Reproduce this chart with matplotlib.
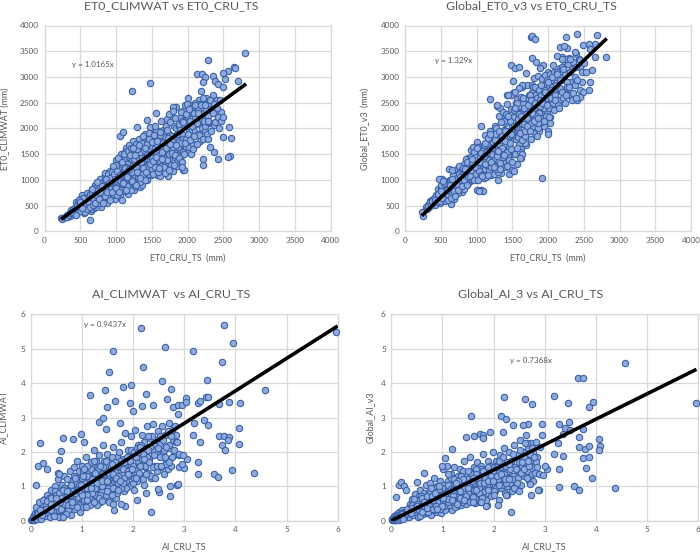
import matplotlib
matplotlib.use("Agg")
import matplotlib.pyplot as plt

plt.rcParams["font.family"] = ["Lato", "DejaVu Sans"]

W, H = 700, 552
TEXT = "#595959"
GRID = "#d9d9d9"

# values: shared CRU_TS x for the dense cloud
et0_x = [
    235, 250, 285, 300, 315, 330, 345, 360, 375, 390,
    400, 415, 430, 445, 460, 475, 490, 505, 520, 535,
    550, 565, 580, 595, 610, 625, 640, 650, 665, 680,
    690, 700, 710, 725, 740, 755, 770, 785, 800, 815,
    825, 840, 850, 865, 880, 895, 910, 925, 940, 955,
    965, 980, 995, 1005, 1020, 1030, 1045, 1060, 1075, 1085,
    1100, 1110, 1125, 1140, 1155, 1165, 1180, 1195, 1210, 1225,
    1235, 1250, 1265, 1280, 1295, 1310, 1325, 1340, 1355, 1370,
    1385, 1400, 1415, 1430, 1445, 1460, 1475, 1490, 1505, 1520,
    1530, 1545, 1560, 1575, 1590, 1605, 1620, 1635, 1650, 1665,
    1680, 1695, 1710, 1725, 1740, 1755, 1770, 1785, 1800, 1815,
    1830, 1845, 1860, 1875, 1890, 1905, 1920, 1935, 1950, 1965,
    1980, 1995, 2010, 2025, 2040, 2055, 2070, 2085, 2100, 2115,
    2130, 2145, 2160, 2175, 2190, 2205, 2220, 2235, 2250, 2265,
    2280, 2295, 2310, 2330, 2350, 2370, 2390, 2410, 2440, 2470,
    610, 628, 646, 664, 682, 700, 718, 736, 754, 772,
    790, 808, 826, 844, 862, 880, 898, 916, 934, 952,
    970, 988, 1006, 1024, 1042, 1060, 1078, 1096, 1114, 1132,
    1150, 1168, 1186, 1204, 1222, 1240, 1258, 1276, 1294, 1312,
    1330, 1348, 1366, 1384, 1402, 1420, 1438, 1456, 1474, 1492,
    1510, 1528, 1546, 1564, 1582, 1600, 1618, 1636, 1654, 1672,
    1690, 1708, 1726, 1744, 1762, 1780, 1798, 1816, 1834, 1852,
    1870, 1888, 1906, 1924, 1942, 1960, 1978, 1996, 2014, 2032,
    455, 470, 485, 500, 515, 530, 545, 560, 575, 590,
    600, 615, 630, 645, 660, 675, 690, 705, 720, 735,
    750, 765, 780, 795, 810, 825, 840, 855, 870, 885,
    900, 915, 930, 945, 960, 975, 990, 1005, 1020, 1035,
    1050, 1065, 1080, 1095, 1110, 1125, 1140, 1155, 1170, 1185,
    1200, 1215, 1230, 1245, 1260, 1275, 1290, 1305, 1320, 1335,
    1350, 1365, 1380, 1395, 1410, 1425, 1440, 1455, 1470, 1485,
    1500, 1515, 1530, 1545, 1560, 1575, 1590, 1605, 1620, 1635,
    1650, 1665, 1680, 1695, 1710, 1725, 1740, 1755, 1770, 1785,
    1800, 1815, 1830, 1845, 1860, 1875, 1890, 1905, 1920, 1935,
    1950, 1965, 1980, 1995, 2010, 2025, 2040, 2055, 2070, 2085,
    2100, 2120, 2140, 2160, 2180, 2200, 2220, 2240, 2260, 2280,
    500, 520, 540, 560, 580, 600, 620, 640, 660, 680,
    700, 720, 740, 760, 780, 800, 820, 840, 860, 880,
    900, 920, 940, 960, 980, 1000, 1020, 1040, 1060, 1080,
    1100, 1120, 1140, 1160, 1180, 1200, 1220, 1240, 1260, 1280,
    1300, 1320, 1340, 1360, 1380, 1400, 1420, 1440, 1460, 1480,
    1500, 1520, 1540, 1560, 1580, 1600, 1620, 1640, 1660, 1680,
    1700, 1720, 1740, 1760, 1780, 1800, 1820, 1840, 1860, 1880,
    1900, 1920, 1940, 1960, 1980, 2000, 2020, 2040, 2060, 2080,
    2090, 2110, 2130, 2150, 2170, 2190, 2210, 2230, 2250, 2270,
    2290, 2310, 2330, 2350, 2370, 2390, 2410, 2430, 2450, 2470,
    320, 340, 360, 380, 420, 440, 460, 480, 500, 520,
]
climwat_et0 = [
    255, 250, 285, 275, 330, 300, 345, 300, 420, 360,
    440, 350, 400, 580, 370, 500, 640, 420, 700, 520,
    360, 610, 450, 740, 520, 680, 220, 400, 580, 760,
    450, 900, 620, 840, 520, 720, 940, 480, 650, 820,
    1040, 580, 760, 920, 640, 1100, 830, 700, 1000, 890,
    1200, 640, 1380, 780, 1060, 920, 1250, 690, 1500, 620,
    850, 1380, 1000, 1630, 1150, 720, 1450, 900, 1270, 1550,
    1750, 800, 1080, 1550, 930, 1300, 1790, 860, 1180, 1620,
    1050, 1900, 1430, 1000, 1780, 1280, 2030, 1100, 1650, 1900,
    1200, 1500, 1780, 1100, 1960, 1350, 1640, 2150, 1170, 1850,
    1300, 1560, 2180, 1080, 1900, 1420, 2290, 1660, 1170, 2050,
    1450, 2420, 1280, 1750, 2200, 1560, 1900, 1200, 2350, 1620,
    2100, 1560, 2600, 1800, 2300, 1500, 2450, 1950, 2200, 1700,
    2400, 1900, 2560, 2150, 2720, 2000, 2300, 2500, 1950, 2600,
    2250, 2450, 2100, 2380, 2650, 2060, 2300, 2550, 2000, 2320,
    500, 650, 440, 830, 560, 680, 480, 880, 600, 1010,
    590, 870, 700, 1130, 620, 990, 780, 1180, 680, 1060,
    780, 1280, 900, 1430, 1120, 1860, 830, 1940, 1200, 1540,
    1320, 1060, 1680, 800, 1400, 1180, 950, 1700, 1470, 1050,
    1520, 1230, 900, 1850, 1150, 1650, 1300, 1920, 1500, 1220,
    1780, 1330, 1620, 1980, 1250, 1830, 1080, 1500, 1980, 1400,
    1950, 1450, 1700, 2280, 1250, 1850, 2420, 1550, 2000, 1350,
    1650, 2050, 2330, 1480, 1800, 2450, 1650, 2250, 1950, 2450,
    460, 560, 530, 480, 620, 590, 470, 560, 650, 430,
    600, 460, 720, 540, 740, 640, 520, 770, 560, 700,
    800, 560, 880, 720, 950, 640, 1000, 830, 560, 1120,
    720, 1040, 830, 1150, 730, 1110, 860, 1300, 700, 1000,
    1120, 800, 1320, 960, 1500, 780, 1250, 890, 1560, 1080,
    1020, 1620, 1150, 1400, 880, 1250, 1600, 1130, 1420, 960,
    1350, 1720, 1120, 1580, 1000, 1250, 1700, 1120, 1380, 1800,
    1420, 1120, 1870, 1260, 1550, 1700, 1160, 1480, 1880, 1270,
    1550, 1250, 1700, 2050, 1380, 1820, 1500, 2120, 1300, 1780,
    1650, 1300, 2200, 1850, 1480, 2080, 1380, 1720, 2150, 1550,
    1500, 2100, 1800, 2480, 2050, 1650, 2150, 2400, 1700, 2300,
    2500, 2080, 2350, 1880, 2470, 2180, 2600, 2050, 2350, 2130,
    400, 640, 660, 380, 520, 430, 560, 480, 820, 520,
    560, 700, 960, 640, 760, 880, 560, 680, 1020, 760,
    940, 620, 760, 1280, 1020, 840, 1180, 760, 1100, 1350,
    950, 1230, 800, 1050, 1220, 1480, 980, 1620, 1480, 900,
    1150, 1680, 1040, 1430, 1240, 1620, 1150, 1480, 1800, 1320,
    1730, 1360, 2050, 1450, 1750, 1230, 1930, 1400, 1720, 1130,
    1620, 1980, 1200, 1700, 1530, 2340, 1480, 1680, 1900, 1420,
    1980, 1350, 2120, 1720, 2280, 1900, 2380, 1780, 2050, 1600,
    1850, 2450, 2100, 2300, 1750, 2450, 1800, 2150, 2450, 1900,
    2150, 2550, 1950, 2300, 2480, 2130, 2400, 2230, 2550, 2150,
    290, 320, 350, 380, 460, 330, 500, 610, 580, 460,
]
global_et0 = [
    375, 310, 480, 440, 520, 470, 600, 540, 620, 560,
    650, 520, 700, 600, 820, 640, 560, 760, 1010, 620,
    720, 880, 660, 990, 780, 1000, 530, 700, 860, 640,
    900, 1100, 780, 1210, 1000, 860, 1180, 1030, 760, 1090,
    1320, 960, 1150, 1050, 1420, 1240, 990, 1580, 1120, 1340,
    1050, 1500, 1230, 1730, 1100, 1400, 1620, 800, 1280, 790,
    1030, 1880, 1180, 1620, 1340, 1490, 1760, 1100, 1650, 1950,
    1120, 2050, 1300, 2440, 1000, 1700, 2400, 1130, 1900, 2200,
    1330, 2100, 1600, 2650, 1120, 1850, 2380, 1200, 2680, 1500,
    1900, 2500, 1320, 2150, 1700, 2440, 1430, 2800, 1850, 2250,
    2500, 1680, 2850, 2100, 2330, 1800, 2700, 2050, 2980, 1920,
    2600, 2150, 3020, 1960, 2750, 2300, 2960, 2040, 2500, 2880,
    2300, 3100, 2650, 2230, 2950, 2480, 3230, 2700, 2400, 3000,
    2850, 2550, 3180, 2720, 3380, 2600, 2950, 3260, 2760, 3080,
    2650, 3360, 2900, 3150, 2680, 3000, 3450, 2560, 3200, 2900,
    800, 940, 690, 1090, 850, 1000, 820, 930, 1280, 890,
    1200, 840, 1060, 1400, 1280, 940, 1130, 1450, 1020, 1640,
    1180, 1370, 1600, 1050, 1500, 2050, 1330, 1680, 1220, 1420,
    1700, 1200, 1960, 1550, 1840, 1430, 1280, 2000, 1150, 2250,
    1800, 1520, 2320, 1980, 1250, 2480, 1460, 1650, 2650, 2050,
    2220, 1180, 1800, 2580, 1980, 2300, 1600, 2080, 2500, 1720,
    2280, 1950, 2650, 2150, 2480, 2850, 2250, 2650, 2420, 2000,
    2300, 2620, 2120, 2850, 2400, 3030, 2560, 1960, 2800, 2450,
    720, 680, 740, 850, 700, 830, 780, 640, 750, 820,
    700, 950, 860, 760, 960, 790, 960, 850, 1040, 740,
    1120, 930, 860, 1100, 1240, 830, 1180, 1060, 1340, 1130,
    1210, 1020, 1340, 1230, 1550, 1120, 1440, 1280, 1650, 1180,
    1450, 1100, 1570, 1350, 1720, 1060, 1290, 1820, 1380, 1600,
    1260, 1500, 1740, 1620, 1890, 1220, 1520, 1950, 1330, 1780,
    1620, 1440, 2150, 1750, 2280, 1550, 1950, 1380, 2150, 1600,
    1870, 2350, 1500, 2030, 2500, 1830, 2280, 1540, 2620, 1780,
    2600, 2080, 1850, 2400, 2200, 1950, 2650, 2100, 2350, 2800,
    2400, 2800, 2250, 2600, 2100, 2750, 2430, 2650, 2200, 2700,
    2750, 2250, 2950, 2600, 2400, 3050, 2600, 2800, 2500, 3100,
    2650, 3100, 2450, 2780, 3000, 3200, 2700, 3050, 2900, 3250,
    900, 700, 940, 600, 810, 620, 900, 660, 1020, 780,
    680, 920, 800, 1050, 1000, 880, 1000, 1220, 900, 1060,
    1080, 1200, 1400, 1000, 1250, 1620, 1000, 1350, 1530, 1080,
    1460, 1310, 1540, 1100, 1900, 1350, 1620, 1260, 1780, 1460,
    1560, 1220, 2120, 1850, 1480, 1960, 1280, 2250, 1720, 1900,
    1350, 2050, 2400, 1620, 2180, 1920, 2250, 1500, 2400, 1950,
    2050, 2450, 1950, 2550, 2300, 2150, 2500, 1850, 2200, 2550,
    2850, 2500, 2150, 2700, 2450, 2900, 2100, 2750, 3000, 2350,
    2550, 2850, 3050, 2400, 2950, 2700, 3150, 2500, 3350, 2800,
    2800, 3100, 2550, 3300, 2850, 3200, 2950, 3350, 2750, 3100,
    500, 570, 520, 590, 620, 570, 730, 600, 780, 650,
]

# points standing clear of the cloud
climwat_et0_out_x = [1220, 1480, 2290, 2810, 2650, 2660, 2570, 2490, 2130, 2200, 2350, 2240,
                     2390, 2210, 2520, 2700, 2420, 2500, 1560, 1440, 1300, 2580, 2500, 2610,
                     2590, 2570, 2430, 2210, 2210, 2370, 2320, 2280, 1950, 1920, 2130, 2490]
climwat_et0_out_y = [2730, 2890, 3330, 3460, 3200, 3180, 3110, 3080, 3050, 3060, 3020, 3000,
                     2920, 2900, 2970, 2920, 2860, 2800, 2300, 2160, 2020, 2020, 1840, 1810,
                     1460, 1450, 1400, 1400, 1300, 1550, 1650, 1800, 1200, 1260, 1700, 2230]
global_et0_out_x = [1910, 1610, 1000, 1030, 2000, 2010, 1480, 1540, 1590, 1510, 1690, 1630,
                    1590, 1760, 1780, 1810, 1780, 1830, 1930, 1890, 2410, 2690, 2250, 2650,
                    2570, 2490, 2580, 2270, 2170, 2220, 2120, 2370, 2810, 2660, 2610, 2590,
                    2570, 2490, 2440, 2390, 2500, 2450, 2530, 2300, 2200, 1190, 470, 530,
                    610, 650, 2250, 1280, 1440, 1530]
global_et0_out_y = [1040, 1430, 800, 790, 1900, 2230, 3230, 3180, 3200, 2920, 3070, 2840,
                    2780, 3780, 3790, 3740, 3370, 3300, 3230, 3170, 3830, 3810, 3770, 3650,
                    3640, 3630, 3540, 3560, 3580, 3610, 3410, 3490, 3390, 3390, 3130, 2900,
                    2740, 2710, 2620, 2590, 3270, 3330, 3100, 3350, 3350, 2570, 1010, 990,
                    1210, 1190, 2650, 2450, 2660, 2700]

ai_x = [
    .01, .02, .03, .04, .05, .06, .07, .08, .09, .10,
    .12, .14, .16, .18, .20, .22, .24, .26, .28, .30,
    .32, .34, .36, .38, .40, .42, .44, .46, .48, .50,
    .52, .54, .56, .58, .60, .62, .64, .66, .68, .70,
    .72, .74, .76, .78, .80, .82, .84, .86, .88, .90,
    .92, .94, .96, .98, 1.00, 1.02, 1.04, 1.06, 1.08, 1.10,
    1.12, 1.14, 1.16, 1.18, 1.20, 1.22, 1.24, 1.26, 1.28, 1.30,
    1.32, 1.34, 1.36, 1.38, 1.40, 1.42, 1.44, 1.46, 1.48, 1.50,
    1.52, 1.54, 1.56, 1.58, 1.60, 1.62, 1.64, 1.66, 1.68, 1.70,
    1.72, 1.74, 1.76, 1.78, 1.80, 1.82, 1.84, 1.86, 1.88, 1.90,
    1.92, 1.94, 1.96, 1.98, 2.00, 2.02, 2.04, 2.06, 2.08, 2.10,
    2.12, 2.14, 2.16, 2.18, 2.20, 2.22, 2.24, 2.26, 2.28, 2.30,
    2.32, 2.34, 2.36, 2.38, 2.40, 2.42, 2.44, 2.46, 2.48, 2.50,
    2.52, 2.54, 2.56, 2.58, 2.60, 2.62, 2.64, 2.66, 2.68, 2.70,
    2.72, 2.74, 2.76, 2.78, 2.80, 2.82, 2.84, 2.86, 2.88, 2.90,
    .11, .17, .23, .29, .35, .41, .47, .53, .59, .65,
    .71, .77, .83, .89, .95, 1.01, 1.07, 1.13, 1.19, 1.25,
    1.31, 1.37, 1.43, 1.49, 1.55, 1.61, 1.67, 1.73, 1.79, 1.85,
    1.91, 1.97, 2.03, 2.09, 2.15, 2.21, 2.27, 2.33, 2.39, 2.45,
    .85, .93, 1.03, 1.15, 1.27, 1.39, 1.51, 1.63, 1.75, 1.87,
    .13, .19, .25, .31, .37, .43, .49, .55, .61, .67,
    .73, .79, .85, .91, .97, 1.03, 1.09, 1.15, 1.21, 1.27,
    1.33, 1.39, 1.45, 1.51, 1.57, 1.63, 1.69, 1.75, 1.81, 1.87,
    1.93, 1.99, 2.05, 2.11, 2.17, 2.23, 2.29, 2.35, 2.41, 2.47,
    2.53, 2.59, 2.65, 2.71, 2.77, 2.83, 2.89, .40, .60, .80,
    .90, 1.00, 1.10, 1.20, 1.30, 1.40, 1.50, 1.60, 1.70, 1.80,
    .95, 1.05, 1.17, 1.29, 1.41, 1.53, 1.65, 1.77, 1.89, 2.01,
    .55, .63, .72, .81, 1.11, 1.24, 1.36, 1.47, 1.59, 1.71,
    .15, .21, .27, .33, .39, .45, .51, .57, .63, .69,
    .75, .81, .87, .93, .99, 1.05, 1.11, 1.17, 1.23, 1.29,
    1.35, 1.41, 1.47, 1.53, 1.59, 1.65, 1.71, 1.77, 1.83, 1.89,
    1.95, 2.01, 2.07, 2.13, 2.19, 2.25, 2.31, 2.37, 2.43, 2.49,
    .20, .30, .40, .50, .60, .70, .80, .90, 1.00, 1.10,
    1.20, 1.30, 1.40, 1.50, 1.60, 1.70, 1.80, 1.90, 2.00, 2.10,
    2.55, 2.60, 2.65, 2.70, 2.75, 2.80, 2.85, 2.52, 2.62, 2.68,
    .78, .86, .94, 1.02, 1.10, 1.18, 1.26, 1.34, 1.42, 1.50,
    1.58, 1.66, 1.74, 1.82, 1.90, 1.98, 2.06, 2.14, 2.22, 2.30,
    .05, .07, .09, .11, .13, .15, .17, .19, .21, .23,
]
climwat_ai = [
    .02, .05, .01, .10, .04, .16, .03, .12, .22, .06,
    .28, .08, .36, .15, .50, .10, .42, .20, .62, .14,
    .75, .25, .55, .12, .90, .40, .70, .20, 1.00, .30,
    .60, 1.20, .10, .85, .45, 1.05, .25, 1.30, .70, .35,
    .95, .55, 1.45, .18, 1.15, .70, 1.55, .35, .95, 1.75,
    .50, 1.25, .25, .85, 1.60, .40, 1.10, .70, 1.85, .55,
    1.40, .85, .45, 1.70, 1.05, .60, 2.05, 1.25, .75, 1.55,
    .95, 1.90, .55, 1.30, .75, 2.20, 1.10, 1.60, .90, 1.95,
    1.30, .65, 1.75, 1.05, 2.15, .85, 1.45, .65, 1.85, 1.15,
    1.55, .95, 2.30, 1.25, 1.80, .85, 2.55, 1.40, 1.10, 2.05,
    1.65, 1.00, 2.45, 1.30, 1.90, .90, 2.65, 1.55, 1.15, 2.20,
    1.35, 2.00, 1.70, 2.50, 1.20, 2.30, 1.55, 1.95, 2.75, 1.40,
    1.80, 2.40, 1.25, 2.05, 2.80, 1.60, 2.20, 1.45, 2.60, 1.90,
    2.25, 1.55, 2.75, 2.00, 1.35, 2.50, 1.75, 2.15, 1.50, 2.85,
    2.10, 1.60, 2.65, 2.35, 1.90, 2.75, 2.30, 1.05, 3.10, 1.90,
    .40, .55, .30, .45, .65, .60, .85, .45, .75, .95,
    1.20, .75, 1.00, .60, 1.45, .85, 1.30, .65, 1.25, .95,
    1.50, 1.05, 1.75, 1.25, .85, 1.55, 1.00, 2.00, 1.35, 1.65,
    1.30, 2.05, 1.50, 1.75, 2.20, 1.05, 1.85, 2.15, 1.55, 2.35,
    1.30, .95, 1.45, 1.10, 1.75, 1.40, 1.60, 1.30, 1.60, 1.15,
    .20, .22, .60, .58, .35, .55, .75, .80, .30, .60,
    .30, 1.05, .50, 1.10, .65, .95, .40, 1.20, 1.45, .55,
    1.20, .85, 1.45, .95, 1.55, 1.15, .80, 1.75, 1.50, .95,
    1.45, 1.10, 1.85, 1.40, 1.80, 1.60, 2.05, 1.30, 1.90, 1.60,
    1.85, 2.35, 1.65, 2.20, 1.85, 2.50, 1.55, .50, .65, .90,
    .80, 1.25, .95, .80, 1.30, 1.00, 1.40, .95, 1.65, 1.15,
    1.05, .60, 1.50, .45, 1.55, .55, 1.20, 1.05, 1.75, 2.00,
    .30, .50, .45, .85, 1.60, 1.75, 1.60, .75, 1.85, 1.30,
    .12, .15, .30, .35, .65, .15, .42, .55, .90, .20,
    .80, .45, 1.25, .70, 1.05, 1.50, .75, 1.05, .55, 1.15,
    .75, 1.25, 1.75, 1.40, .75, 1.70, 1.10, .95, 1.25, 1.85,
    1.75, 1.25, 2.10, 1.60, 1.95, 1.35, 1.70, 2.45, 1.25, 2.10,
    .25, .35, .30, .65, .35, .85, .55, .40, .75, 1.30,
    1.20, 1.10, 1.15, 1.15, 1.35, .90, 1.10, 1.45, 1.60, 2.00,
    1.60, 2.05, 2.15, 1.70, 2.45, 2.05, 2.30, 2.45, 1.85, 2.60,
    1.05, .80, .90, 1.30, .60, .95, 1.40, .65, 1.35, .85,
    1.65, 1.25, 1.15, 1.70, 1.35, 1.50, 1.25, 2.15, 1.80, 2.45,
    .08, .02, .05, .12, .06, .22, .10, .30, .05, .18,
]
global_ai = [
    .01, .04, .02, .08, .03, .13, .02, .10, .18, .05,
    .20, .06, .24, .12, .30, .08, .26, .14, .20, .10,
    .35, .12, .50, .20, .62, .16, .42, .78, .25, .55,
    .12, .72, .90, .30, .50, .20, .80, .40, 1.05, .22,
    .60, .30, 1.10, .18, .85, .42, 1.25, .65, .25, 1.00,
    .75, .40, 1.15, .22, .60, 1.50, .90, .30, 1.60, .50,
    1.10, .55, 1.35, .32, .85, 1.55, .65, 1.05, .42, 1.25,
    .80, 1.50, .45, 1.15, .65, 1.75, .95, .50, 1.35, .72,
    1.00, 1.85, .60, 1.25, .80, 1.55, .52, 1.05, 1.70, .75,
    1.30, .55, 1.60, .95, 1.95, .70, 1.15, 1.45, .45, 1.75,
    1.05, 1.60, .72, 2.00, 1.25, .85, 1.75, 1.00, 1.40, .60,
    1.90, .95, 1.55, 1.20, 2.10, .80, 1.70, 1.00, 1.45, 2.00,
    1.10, 1.75, .85, 1.30, 2.20, 1.55, 1.00, 1.90, 1.25, 1.70,
    2.35, 1.05, 1.60, 2.00, 1.30, 1.80, 2.50, 1.45, 2.10, 1.15,
    1.75, 2.25, 1.35, 2.00, 1.55, 1.40, 2.30, 1.85, .90, 2.15,
    .15, .20, .15, .25, .30, .45, .35, .60, .72, .60,
    .78, .50, .30, .82, .55, 1.05, .70, .45, 1.00, .60,
    1.30, .70, 1.00, .60, 1.40, .90, 1.20, .75, 1.10, .60,
    1.35, .90, 1.60, 1.20, 1.75, 1.35, .75, 1.50, 1.95, 1.10,
    .95, .95, .80, .95, .75, 1.25, 1.15, 1.35, 1.20, 1.30,
    .10, .22, .10, .22, .36, .30, .45, .42, .35, .55,
    .42, .70, .50, .65, .85, .42, .80, .72, .55, .85,
    .95, .55, 1.15, .80, 1.35, .65, 1.00, 1.50, .85, 1.05,
    1.15, 1.45, .95, 1.75, 1.05, 1.60, 1.25, 1.75, .95, 1.45,
    1.40, 1.85, 1.25, 1.95, 1.15, 1.70, 1.35, .45, .65, .62,
    .55, .95, 1.15, .75, .55, .85, 1.20, 1.10, 1.45, 1.00,
    .35, .60, 1.25, 1.00, 1.45, .55, 1.50, 1.05, 1.55, .85,
    .30, .55, .25, .35, 1.05, .40, 1.30, 1.05, .70, .95,
    .08, .15, .20, .28, .22, .62, .48, .15, .42, .72,
    .85, .60, .42, .92, .42, .78, .55, .92, 1.20, .50,
    .65, 1.20, .72, 1.10, .55, 1.35, .80, .65, 1.25, 1.40,
    1.30, .75, 1.30, 1.55, 1.85, 1.10, 1.65, 1.20, 1.50, .85,
    .20, .35, .38, .42, .25, .38, .72, .35, .72, .62,
    .90, 1.15, .95, .95, 1.25, 1.25, 1.45, .90, 1.55, 1.05,
    1.70, 1.50, 2.25, 1.60, 2.10, 1.85, 1.55, 2.05, 2.25, 1.75,
    .95, .80, 1.00, .65, 1.35, .60, 1.10, .85, .60, 1.45,
    1.15, .90, 1.10, 1.10, 1.15, 1.15, 1.55, 1.35, 1.20, 1.20,
    .06, .01, .04, .03, .05, .02, .08, .05, .10, .06,
]

climwat_ai_out_x = [.10, .19, .15, .24, .31, .54, .56, .56, .59, .64, .82, .98, 1.05, 1.16, 1.33,
                    1.42, 1.46, 1.47, 1.50, 1.54, 1.61, 1.64, 1.75, 1.80, 1.95, 1.97, 2.00, 2.15,
                    2.19, 2.25, 2.18, 2.40, 2.57, 2.62, 2.67, 2.75, 2.78, 2.88, 2.95, 3.03, 3.03,
                    3.18, 3.27, 3.30, 3.44, 3.42, 3.47, 3.68, 3.73, 3.78, 3.87, 3.95, 4.09, 4.58,
                    5.97, 3.20, 3.18, 3.38, 3.30, 3.47, 3.68, 3.77, 3.74, 3.80, 3.87, 3.86, 4.07,
                    4.07, 3.93, 4.37, 3.58, 3.67, 3.26, 3.27, 3.00, 2.95, 3.05, 2.90, 2.97, 2.87,
                    2.72, 2.72, 2.50, 2.48, 2.35, 2.25, 2.08, 1.85, 1.76, 1.63, 1.60, 1.40, .64]
climwat_ai_out_y = [1.03, 2.26, 1.58, 1.68, 1.50, 1.38, 1.35, 1.77, 2.04, 2.40, 2.37, 2.53, 2.30, 3.64, 2.88,
                    3.00, 3.80, 2.67, 3.31, 4.31, 4.93, 3.47, 2.83, 3.90, 3.42, 3.95, 3.20, 5.60,
                    4.46, 3.68, 3.33, 3.37, 4.06, 5.06, 3.55, 3.83, 3.30, 3.35, 3.37, 3.58, 3.45,
                    4.93, 3.42, 3.48, 4.10, 3.60, 3.60, 3.39, 4.62, 5.68, 3.45, 5.17, 3.41, 3.80,
                    5.50, 2.83, 2.50, 2.93, 2.29, 2.78, 2.45, 2.46, 2.20, 2.05, 2.42, 2.35, 2.69,
                    2.24, 1.46, 1.40, 1.36, 1.27, 1.35, 1.70, 1.53, 1.65, 1.80, 1.93, 1.90, 1.06,
                    1.00, .72, .84, .93, .26, .80, .60, .42, .48, .30, .48, .57, .10]
global_ai_out_x = [5.97, 4.58, 3.66, 3.75, 3.18, 3.45, 3.95, 3.87, 2.62, 2.75, 2.20, 1.55, 2.15, 2.25,
                   3.47, 3.28, 2.95, 2.68, 2.57, 2.39, 1.46, 1.62, 1.74, 1.80, 1.80, 1.94, 2.19, 2.95,
                   3.35, 3.40, 3.50, 3.76, 3.68, 4.07, 4.08, 4.07, 3.68, 3.78, 3.86, 3.75, 3.86, 3.80,
                   3.93, 4.37, 3.58, 3.67, 3.28, 2.87, 2.73, 2.72, 2.35, 2.08, 1.85, 1.75, 1.18, 1.05,
                   1.00, .64, .10, .15, .19, .24, .28, .50, 3.18, 3.35, 3.28, 3.27, 3.05, 2.97, 3.00, 2.25]
global_ai_out_y = [3.43, 4.57, 4.14, 4.15, 3.63, 3.42, 3.45, 3.30, 3.55, 3.40, 3.60, 3.05, 3.03, 2.95,
                   2.87, 2.80, 2.80, 2.80, 2.78, 2.78, 2.42, 2.47, 2.53, 2.50, 2.40, 2.58, 2.57, 2.48,
                   2.53, 2.70, 2.65, 2.68, 2.43, 2.38, 2.18, 2.05, 2.15, 2.08, 2.17, 1.83, 1.86, 1.52,
                   1.23, .96, 1.02, .90, .98, .88, .76, 1.06, .24, .45, .42, .55, 2.08, 1.83,
                   1.60, 1.40, .68, 1.05, 1.13, 1.02, .88, 1.12, 1.93, 1.88, 1.50, 2.25, 1.50, 1.33, 1.58, .75]

et0_ticks = [0, 500, 1000, 1500, 2000, 2500, 3000, 3500, 4000]
ai_ticks = [0, 1, 2, 3, 4, 5, 6]

# fitted lines, end points as drawn
fit1_x, fit1_y = [230, 2820], [234, 2867]
fit2_x, fit2_y = [230, 2820], [306, 3748]
fit3_x, fit3_y = [0, 6], [0, 5.66]
fit4_x, fit4_y = [0, 5.97], [0, 4.40]


def panel(box, x, y, fit_x, fit_y, ticks, title, title_xy, xlabel, xlabel_y, ylabel, ylabel_x, eq, eq_xy):
    left, right, top, bottom = box
    ax = fig.add_axes([left / W, 1 - bottom / H, (right - left) / W, (bottom - top) / H])
    ax.scatter(x, y, s=21, c="#8faadc", edgecolors="#3a62a8", linewidths=0.8, zorder=3, clip_on=False)
    ax.plot(fit_x, fit_y, color="black", lw=2.6, solid_capstyle="butt", zorder=4)
    ax.set_xlim(ticks[0], ticks[-1])
    ax.set_ylim(ticks[0], ticks[-1])
    ax.set_xticks(ticks)
    ax.set_yticks(ticks)
    ax.tick_params(length=0, labelsize=5.9, labelcolor=TEXT, pad=4)
    ax.grid(True, color=GRID, lw=0.9)
    ax.set_axisbelow(True)
    for s in ax.spines.values():
        s.set_color(GRID)
        s.set_linewidth(0.9)
    fig.text(title_xy[0] / W, 1 - title_xy[1] / H, title, fontsize=8.9, color=TEXT, ha="center", va="center")
    fig.text((left + right) / 2 / W, 1 - xlabel_y / H, xlabel, fontsize=6.4, color=TEXT, ha="center", va="center")
    fig.text(ylabel_x / W, 1 - (top + bottom) / 2 / H, ylabel, fontsize=6.4, color=TEXT,
             rotation=90, ha="center", va="center")
    fig.text(eq_xy[0] / W, 1 - eq_xy[1] / H, eq, fontsize=5.8, color=TEXT, ha="left", va="center")
    return ax


fig = plt.figure(figsize=(W / 100, H / 100), dpi=100)

panel((44.5, 330.5, 25.5, 231.5), et0_x + climwat_et0_out_x, climwat_et0 + climwat_et0_out_y,
      fit1_x, fit1_y, et0_ticks, "ET0_CLIMWAT vs ET0_CRU_TS", (171, 6), "ET0_CRU_TS  (mm)", 258,
      "ET0_CLIMWAT (mm)", 5, "y = 1.0165x", (72.5, 65))
panel((405.3, 691, 25.5, 231.5), et0_x + global_et0_out_x, global_et0 + global_et0_out_y,
      fit2_x, fit2_y, et0_ticks, "Global_ET0_v3 vs ET0_CRU_TS", (531, 6), "ET0_CRU_TS  (mm)", 258,
      "Global_ET0_v3  (mm)", 365, "y = 1.329x", (435, 61))
panel((30.7, 337.7, 314.3, 520.7), ai_x + climwat_ai_out_x, climwat_ai + climwat_ai_out_y,
      fit3_x, fit3_y, ai_ticks, "AI_CLIMWAT  vs AI_CRU_TS", (171, 294), "AI_CRU_TS", 547,
      "AI_CLIMWAT", 4, "y = 0.9437x", (84, 325))
panel((391.3, 698, 314.3, 520.7), ai_x + global_ai_out_x, global_ai + global_ai_out_y,
      fit4_x, fit4_y, ai_ticks, "Global_AI_3 vs AI_CRU_TS", (531, 294), "AI_CRU_TS", 547,
      "Global_AI_v3", 370, "y = 0.7368x", (510, 361))

fig.savefig("out.png", dpi=100)
